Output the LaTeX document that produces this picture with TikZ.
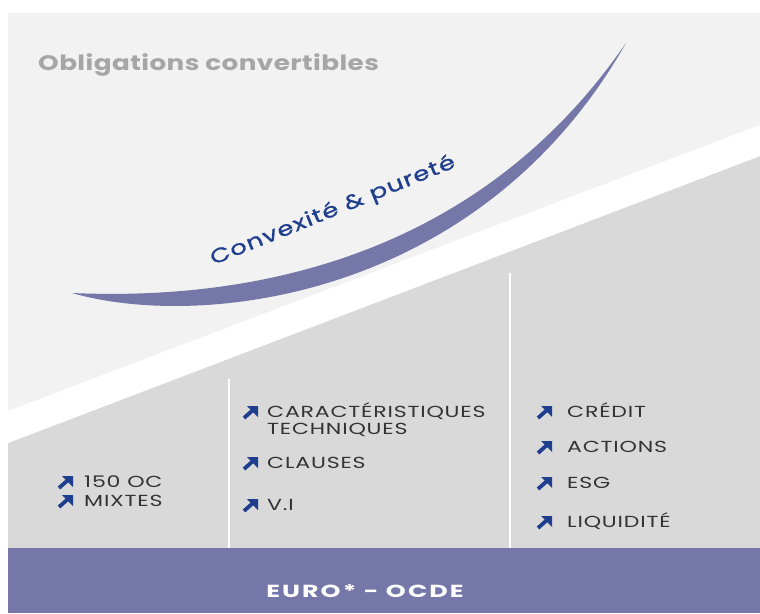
\documentclass[tikz,border=0pt]{standalone}
\usepackage{fontspec}
\setmainfont{Poppins}
\newfontfamily\titlefont[FakeStretch=1.25, LetterSpace=2]{Poppins}
\newfontfamily\curvefont[FakeStretch=1.3, LetterSpace=5, FakeBold=1]{Poppins}
\newfontfamily\itemfont[FakeStretch=1.38, LetterSpace=5]{Poppins}
\newfontfamily\footfont[FakeStretch=1.45, LetterSpace=12]{Poppins}
\usepackage{xcolor}
\usepackage{tikz}
\definecolor{lightbg}{HTML}{F2F2F2}
\definecolor{darkbg}{HTML}{D9D9D9}
\definecolor{lavender}{HTML}{7577A9}
\definecolor{navy}{HTML}{1F3E8D}
\definecolor{titlegrey}{HTML}{A6A6A6}
\definecolor{itemtxt}{HTML}{333333}
\tikzset{nearr/.pic={\fill[navy] (4,-13) -- (15,-13) -- (15,-2) -- cycle;
    \draw[navy,line width=3.8pt] (1,-1) -- (10,-9);}}

\begin{document}
\begin{tikzpicture}[x=1pt, y=-1pt, every node/.style={inner sep=0pt},%
        item/.style={anchor=base west, text=itemtxt, font=\itemfont\fontsize{16}{18}\selectfont}]
        \useasboundingbox (0,0) rectangle (760,613);
        % backgrounds
        \fill[lightbg] (8,13) rectangle (760,548);
        \fill[darkbg] (8,443) -- (760,156) -- (760,548) -- (8,548) -- cycle;
        \fill[white] (8,411) -- (760,125) -- (760,156) -- (8,443) -- cycle;
        \fill[lavender] (8,548) rectangle (760,613);
        % column dividers
        \draw[white, line width=2pt] (229,379) -- (229,548);
        \draw[white, line width=2pt] (510,273) -- (510,548);
        % convexity curve
        \fill[lavender] (72,293) .. controls (200,330) and (480,300) .. (626,43)
                .. controls (470,270) and (230,300) .. (72,293) -- cycle;
        \node[anchor=base west, text=titlegrey, font=\titlefont\bfseries\fontsize{21}{24}\selectfont] (title) at (38,70) {Obligations convertibles};
        \node[anchor=base, rotate=22, text=navy, font=\curvefont\fontsize{20}{22}\selectfont] (curvelbl) at (335,216) {Convexité \& pureté};
        \node[text=white, font=\footfont\bfseries\fontsize{17.5}{20}\selectfont] (footer) at (365,591) {EURO* - OCDE};
        % first column
        \node[item] (oc) at (84,487) {150 OC};
        \node[item] (mixtes) at (84,506) {MIXTES};
        \pic at (58,489) {nearr};
        \pic at (58,508) {nearr};
        % second column
        \node[item] (carac) at (267,417) {CARACTÉRISTIQUES};
        \node[item] (techn) at (267,434) {TECHNIQUES};
        \node[item] (clauses) at (267,468) {CLAUSES};
        \node[item] (vi) at (267,510) {V.I};
        \pic at (243,419) {nearr};
        \pic at (243,470) {nearr};
        \pic at (243,512) {nearr};
        % third column
        \node[item] (credit) at (567,417) {CRÉDIT};
        \node[item] (actions) at (567,452) {ACTIONS};
        \node[item] (esg) at (567,488) {ESG};
        \node[item] (liq) at (567,527) {LIQUIDITÉ};
        \pic at (537,419) {nearr};
        \pic at (537,454) {nearr};
        \pic at (537,490) {nearr};
        \pic at (537,529) {nearr};
\end{tikzpicture}
\end{document}
